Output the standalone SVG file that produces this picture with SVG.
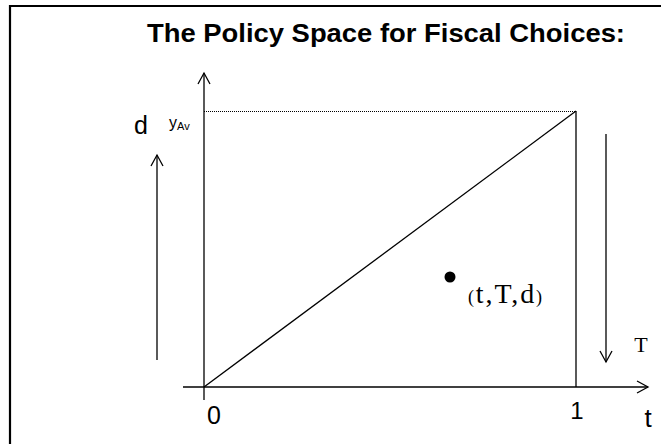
<svg xmlns="http://www.w3.org/2000/svg" width="661" height="444" viewBox="0 0 661 444">
<style>
.ln{stroke:#000;stroke-width:1.3;fill:none}
.sans{font-family:"Liberation Sans",Arial,sans-serif;fill:#000}
.serif{font-family:"Liberation Serif","Times New Roman",serif;fill:#000}
</style>
<defs>
<marker id="ah" markerWidth="14" markerHeight="14" refX="12" refY="7" orient="auto" markerUnits="userSpaceOnUse">
<path d="M1,1 L12,7 L1,13" fill="none" stroke="#000" stroke-width="1.3"/>
</marker>
</defs>
<rect width="661" height="444" fill="#fff"/>
<path d="M10,450 V6 H670" fill="none" stroke="#000" stroke-width="2.2"/>
<text class="sans" x="147" y="42" font-size="25" font-weight="bold" textLength="478" lengthAdjust="spacingAndGlyphs">The Policy Space for Fiscal Choices:</text>
<g id="connectors">
<line class="ln" x1="204" y1="400" x2="204" y2="73" marker-end="url(#ah)"/>
<line class="ln" x1="183" y1="387" x2="648" y2="387" marker-end="url(#ah)"/>
<line class="ln" x1="576" y1="111" x2="576" y2="387"/>
<line class="ln" x1="204" y1="387" x2="576" y2="111" stroke-width="1"/>
<line x1="204" y1="111.5" x2="576" y2="111.5" stroke="#000" stroke-width="1" stroke-dasharray="1,1"/>
<line class="ln" x1="157" y1="360" x2="157" y2="155" marker-end="url(#ah)"/>
<line class="ln" x1="606" y1="134" x2="606" y2="362" marker-end="url(#ah)"/>
</g>
<g id="labels">
<text class="sans" x="141" y="134" font-size="25" text-anchor="middle">d</text>
<text class="sans" x="169" y="128" font-size="16">y<tspan font-size="11" dy="2">Av</tspan></text>
<text class="sans" x="214" y="424" font-size="25" text-anchor="middle">0</text>
<text class="sans" x="577" y="419" font-size="24" text-anchor="middle">1</text>
<text class="sans" x="648" y="427" font-size="26" text-anchor="middle">t</text>
<text class="serif" x="641" y="352" font-size="22" text-anchor="middle">T</text>
</g>
<g id="point">
<circle cx="450" cy="277" r="5.5" fill="#000"/>
<text class="serif" x="468" y="303" font-size="18" textLength="74">(<tspan font-size="28">t,T,d</tspan>)</text>
</g>
</svg>
